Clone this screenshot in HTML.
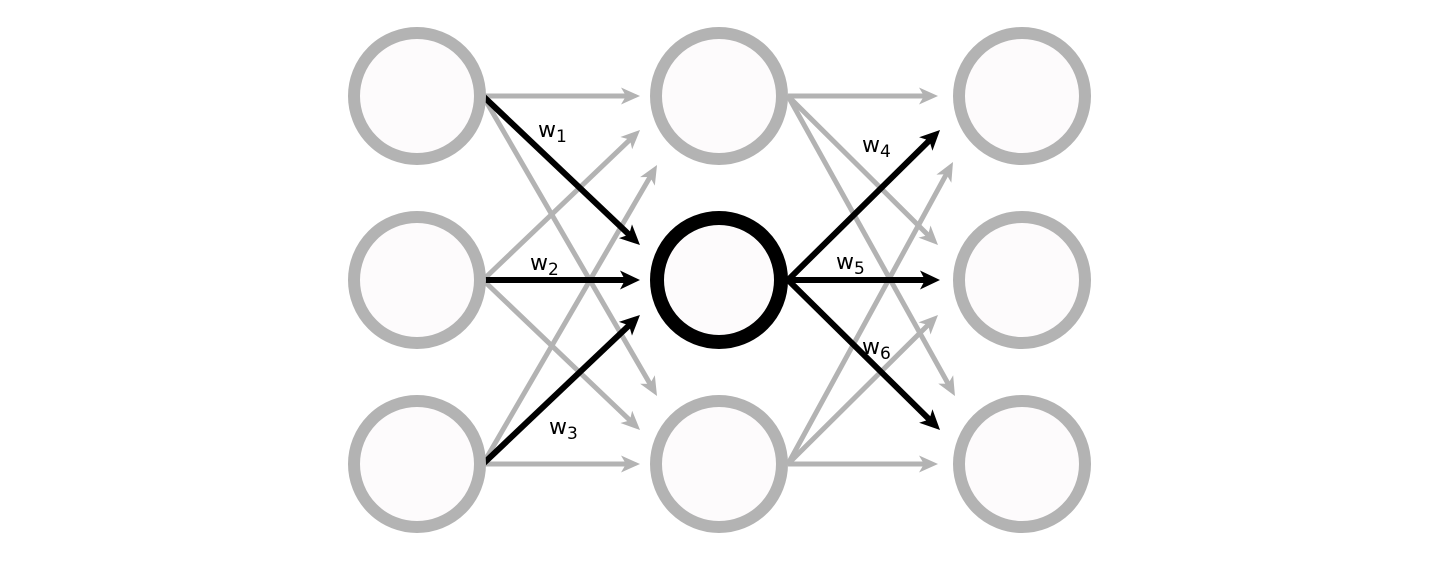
<!DOCTYPE html>
<html><head><meta charset="utf-8"><style>
html,body{margin:0;padding:0;background:#fff;}
svg{display:block;}
text{font-family:"DejaVu Sans","Liberation Sans",sans-serif;fill:#000;}
</style></head><body>
<svg width="1442" height="570" viewBox="0 0 1442 570" xmlns="http://www.w3.org/2000/svg">
<defs>
<marker id="ag" markerUnits="userSpaceOnUse" markerWidth="24" markerHeight="22" viewBox="-12 -11 24 22" refX="0" refY="0" orient="auto">
<path d="M10,0 L-9,-8.5 L-4,0 L-9,8.5 Z" fill="#b3b3b3"/>
</marker>
<marker id="ab" markerUnits="userSpaceOnUse" markerWidth="24" markerHeight="22" viewBox="-12 -11 24 22" refX="0" refY="0" orient="auto">
<path d="M10,0 L-10,-9.5 L-5,0 L-10,9.5 Z" fill="#000"/>
</marker>
</defs>
<g stroke="#b3b3b3" stroke-width="5" marker-end="url(#ag)" fill="none">
<line x1="483" y1="96" x2="630" y2="96"/>
<line x1="483" y1="96" x2="652" y2="387.3"/>
<line x1="483" y1="280" x2="632.8" y2="136.9"/>
<line x1="483" y1="280" x2="632.8" y2="423.1"/>
<line x1="483" y1="464" x2="652" y2="173.6"/>
<line x1="483" y1="464" x2="630" y2="464"/>
<line x1="788" y1="96" x2="928" y2="96"/>
<line x1="788" y1="96" x2="930.9" y2="237.9"/>
<line x1="788" y1="96" x2="950.1" y2="387.3"/>
<line x1="788" y1="464" x2="928" y2="464"/>
<line x1="788" y1="464" x2="930.9" y2="322.1"/>
<line x1="788" y1="464" x2="948.2" y2="170.8"/>
</g>
<g stroke="#000" stroke-width="6" marker-end="url(#ab)" fill="none">
<line x1="483" y1="96" x2="632.7" y2="238.1"/>
<line x1="483" y1="280" x2="630" y2="280"/>
<line x1="483" y1="464" x2="632.7" y2="321.9"/>
<line x1="788" y1="280" x2="932.9" y2="137"/>
<line x1="788" y1="280" x2="930" y2="280"/>
<line x1="788" y1="280" x2="932.9" y2="423"/>
</g>
<g fill="#000">
<circle cx="483" cy="96" r="3"/>
<circle cx="483" cy="280" r="3"/>
<circle cx="483" cy="464" r="3"/>
</g>
<g fill="#fdfbfc" stroke="#b3b3b3" stroke-width="12">
<circle cx="417" cy="96" r="63"/>
<circle cx="417" cy="280" r="63"/>
<circle cx="417" cy="464" r="63"/>
<circle cx="719" cy="96" r="63"/>
<circle cx="719" cy="464" r="63"/>
<circle cx="1022" cy="96" r="63"/>
<circle cx="1022" cy="280" r="63"/>
<circle cx="1022" cy="464" r="63"/>
</g>
<circle cx="719" cy="280" r="62" fill="#fdfbfc" stroke="#000" stroke-width="14"/>
<g font-size="22">
<text x="538" y="137">w<tspan font-size="17" dy="5">1</tspan></text>
<text x="530" y="270">w<tspan font-size="17" dy="5">2</tspan></text>
<text x="549" y="434">w<tspan font-size="17" dy="5">3</tspan></text>
<text x="862" y="152">w<tspan font-size="17" dy="5">4</tspan></text>
<text x="836" y="269">w<tspan font-size="17" dy="5">5</tspan></text>
<text x="862" y="354">w<tspan font-size="17" dy="5">6</tspan></text>
</g>
</svg>
</body></html>
